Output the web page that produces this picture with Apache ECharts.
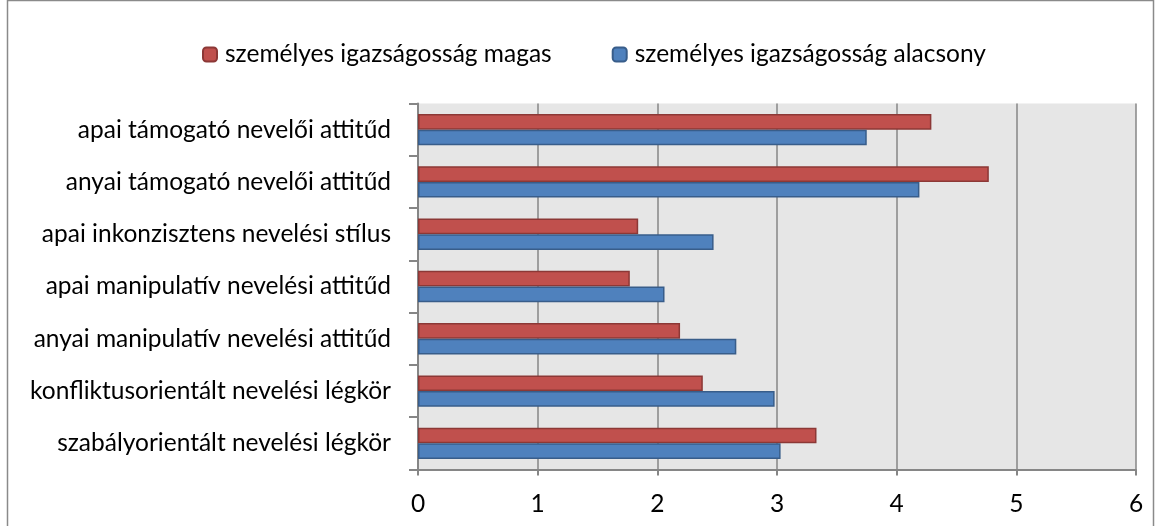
<!DOCTYPE html>
<html>
<head>
<meta charset="utf-8">
<script src="https://cdn.jsdelivr.net/npm/echarts@6/dist/echarts.min.js"></script>
<style>
  html, body { margin: 0; padding: 0; background: #fff; }
  #chart { width: 1162px; height: 526px; }
</style>
</head>
<body>
<div id="chart"></div>
<script>
// categories top to bottom
const categories = [
  'apai támogató nevelői attitűd',
  'anyai támogató nevelői attitűd',
  'apai inkonzisztens nevelési stílus',
  'apai manipulatív nevelési attitűd',
  'anyai manipulatív nevelési attitűd',
  'konfliktusorientált nevelési légkör',
  'szabályorientált nevelési légkör'
]
const seriesNames = ['személyes igazságosság magas', 'személyes igazságosság alacsony']
const magas = [4.29, 4.77, 1.84, 1.77, 2.19, 2.38, 3.33]
const alacsony = [3.75, 4.19, 2.47, 2.06, 2.66, 2.98, 3.03]
const xTicks = [0, 1, 2, 3, 4, 5, 6]

const font = 'Lato'
const fs = 24.5

const chart = echarts.init(document.getElementById('chart'))
chart.setOption({
  animation: false,
  textStyle: { fontFamily: font, fontSize: fs },
  graphic: [{
    type: 'rect',
    shape: { x: 7.5, y: 0.5, width: 1146, height: 540 },
    style: { fill: 'none', stroke: '#8a8a8a', lineWidth: 1.5 }
  }],
  legend: {
    top: 37,
    left: 197,
    itemWidth: 14,
    itemHeight: 14,
    itemGap: 60,
    textStyle: { fontFamily: font, fontSize: fs, color: '#000', padding: [0, 0, 0, 3] },
    data: seriesNames
  },
  grid: {
    left: 418,
    right: 26,
    top: 103.5,
    bottom: 56.5,
    show: true,
    backgroundColor: '#e6e6e6',
    borderWidth: 0
  },
  xAxis: {
    type: 'value',
    min: xTicks[0],
    max: xTicks[xTicks.length - 1],
    interval: 1,
    axisLine: { show: true, lineStyle: { color: '#868686', width: 2 } },
    axisTick: { show: true, length: 6, lineStyle: { color: '#868686', width: 2 } },
    axisLabel: { fontFamily: font, fontSize: fs, color: '#000', margin: 22 },
    splitLine: { show: true, lineStyle: { color: '#868686', width: 1.5 } }
  },
  yAxis: {
    type: 'category',
    inverse: true,
    data: categories,
    axisLine: { show: true, lineStyle: { color: '#868686', width: 2 } },
    axisTick: { show: true, length: 9, lineStyle: { color: '#868686', width: 2 } },
    axisLabel: { fontFamily: font, fontSize: fs, color: '#000', margin: 27 }
  },
  series: [{
    name: seriesNames[0],
    type: 'bar',
    data: magas,
    barGap: '0%',
    barCategoryGap: '40%',
    itemStyle: { color: '#c0504d', borderColor: '#8c3836', borderWidth: 1.5 }
  }, {
    name: seriesNames[1],
    type: 'bar',
    data: alacsony,
    barGap: '0%',
    barCategoryGap: '40%',
    itemStyle: { color: '#4f81bd', borderColor: '#385d8a', borderWidth: 1.5 }
  }]
})
</script>
</body>
</html>
